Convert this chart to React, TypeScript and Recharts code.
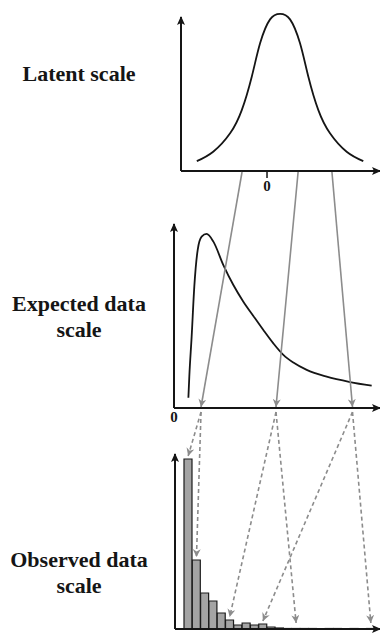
import React from "react";
import { LineChart, Line, BarChart, Bar, XAxis, YAxis } from "recharts";

// --- data ---
const LATENT_X = [-2.53, -1.94, -1.33, -0.91, -0.55, -0.25, 0.11, 0.47, 0.83, 1.19, 1.49, 1.85, 2.27, 2.87, 3.47];
const LATENT_DENSITY = [0.025, 0.049, 0.096, 0.155, 0.24, 0.325, 0.386, 0.4, 0.386, 0.325, 0.24, 0.155, 0.096, 0.049, 0.025];

const EXPECTED_X = [1.41, 1.5, 1.73, 1.99, 2.32, 2.71, 3.2, 3.86, 4.84, 5.82, 6.8, 7.78, 8.76, 9.74, 10.72, 11.7, 13.01, 14.97, 17.26, 19.38];
const EXPECTED_DENSITY = [0.056, 0.171, 0.39, 0.663, 0.863, 0.936, 0.951, 0.909, 0.781, 0.672, 0.581, 0.503, 0.426, 0.353, 0.29, 0.248, 0.208, 0.171, 0.142, 0.122];

const COUNT_LABELS = ["0", "1", "2", "3", "4", "5", "6", "7", "8", "9", "10", "11", "12", "13", "14", "15", "16", "17", "18", "19", "20", "21", "22"];
const COUNT_FREQ = [340, 138, 72, 56, 32, 18, 8, 12, 8, 10, 4, 2, 1, 1, 1, 1, 0, 1, 1, 0, 1, 0, 1];

// latent values -> expected values -> observed counts (the arrows)
const LATENT_POINTS = [-0.9, 1.12, 2.34];
const EXPECTED_POINTS = [2.65, 10.0, 17.5];
const COUNT_RANGES = [[0, 1], [5, 13], [9, 22]];

const W = 380;
const H = 635;
const INK = "#151515";
const ARROW_GRAY = "#8c8c8c";
const LABEL_FONT = "'Liberation Serif', 'Times New Roman', serif";

// plot areas (pixels) + domains, shared by charts and the overlay
const TOP = { left: 181, right: 378, top: 6, bottom: 171, xMin: -3.1, xMax: 4, yMax: 0.42 };
const MID = { left: 174, right: 378, top: 225, bottom: 408, xMin: 0, xMax: 20, yMax: 1 };
const BOT = { left: 175, right: 378, top: 455, bottom: 629, padL: 9, padR: 3, yMax: 348 };

const latentPx = (x: number) => TOP.left + ((x - TOP.xMin) / (TOP.xMax - TOP.xMin)) * (TOP.right - TOP.left);
const expectedPx = (x: number) => MID.left + ((x - MID.xMin) / (MID.xMax - MID.xMin)) * (MID.right - MID.left);
const band = (BOT.right - BOT.padR - BOT.left - BOT.padL) / COUNT_LABELS.length;
const countPx = (i: number) => BOT.left + BOT.padL + (i + 0.5) * band;
const countTopPx = (v: number) => BOT.bottom - (v / BOT.yMax) * (BOT.bottom - BOT.top);

const latentData = LATENT_X.map((x, i) => ({ x, y: LATENT_DENSITY[i] }));
const expectedData = EXPECTED_X.map((x, i) => ({ x, y: EXPECTED_DENSITY[i] }));
const countData = COUNT_LABELS.map((k, i) => ({ k, n: COUNT_FREQ[i] }));

const tickFont = { fill: INK, fontSize: 15, fontWeight: "bold", fontFamily: LABEL_FONT };

const layer: React.CSSProperties = { position: "absolute", left: 0, top: 0 };

// axis with arrow head: vertical + horizontal line from the origin
const AxisArrows = ({ x0, y0, yTop, xEnd }: { x0: number; y0: number; yTop: number; xEnd: number }) => (
  <g stroke={INK} strokeWidth={2}>
    <line x1={x0} y1={y0} x2={x0} y2={yTop} markerEnd="url(#axisHead)" />
    <line x1={x0} y1={y0} x2={xEnd} y2={y0} markerEnd="url(#axisHead)" />
  </g>
);

const SideLabel = ({ lines, y }: { lines: string[]; y: number }) => (
  <text x={79} y={y} textAnchor="middle" fontFamily={LABEL_FONT} fontWeight="bold" fontSize={22} fill={INK}>
    {lines.map((t, i) => (
      <tspan key={t} x={79} dy={i === 0 ? 0 : 26}>
        {t}
      </tspan>
    ))}
  </text>
);

export default function App() {
  return (
    <div style={{ position: "absolute", left: 0, top: 0, width: W, height: H, background: "#fff" }}>
      {/* latent scale */}
      <div style={layer}>
        <LineChart width={W} height={H} data={latentData} margin={{ top: TOP.top, right: W - TOP.right, left: TOP.left, bottom: H - TOP.bottom - 29 }}>
          <XAxis
            type="number"
            dataKey="x"
            domain={[TOP.xMin, TOP.xMax]}
            ticks={[0]}
            height={29}
            axisLine={false}
            tickLine={{ stroke: INK, strokeWidth: 1.5 }}
            tickSize={7}
            tickMargin={2}
            tick={tickFont}
          />
          <YAxis hide domain={[0, TOP.yMax]} />
          <Line dataKey="y" type="natural" stroke={INK} strokeWidth={1.8} dot={false} isAnimationActive={false} />
        </LineChart>
      </div>

      {/* expected data scale */}
      <div style={layer}>
        <LineChart width={W} height={H} data={expectedData} margin={{ top: MID.top, right: W - MID.right, left: MID.left, bottom: H - MID.bottom - 20 }}>
          <XAxis
            type="number"
            dataKey="x"
            domain={[MID.xMin, MID.xMax]}
            ticks={[0]}
            height={20}
            axisLine={false}
            tickLine={false}
            tickSize={2}
            tickMargin={1}
            tick={tickFont}
          />
          <YAxis hide domain={[0, MID.yMax]} />
          <Line dataKey="y" type="monotone" stroke={INK} strokeWidth={1.8} dot={false} isAnimationActive={false} />
        </LineChart>
      </div>

      {/* observed data scale */}
      <div style={layer}>
        <BarChart width={W} height={H} data={countData} margin={{ top: BOT.top, right: W - BOT.right, left: BOT.left, bottom: H - BOT.bottom }} barCategoryGap={0}>
          <XAxis dataKey="k" hide padding={{ left: BOT.padL, right: BOT.padR }} />
          <YAxis hide domain={[0, BOT.yMax]} />
          <Bar dataKey="n" fill="#a4a4a4" stroke="#1c1c1c" strokeWidth={1.2} isAnimationActive={false} />
        </BarChart>
      </div>

      {/* axes, connecting arrows and side labels */}
      <svg width={W} height={H} style={layer}>
        <defs>
          <marker id="axisHead" markerWidth={9} markerHeight={8} refX={8} refY={4} orient="auto" markerUnits="userSpaceOnUse">
            <path d="M0,0 L9,4 L0,8 L2,4 Z" fill={INK} />
          </marker>
          <marker id="grayHead" markerWidth={8} markerHeight={8} refX={8} refY={4} orient="auto" markerUnits="userSpaceOnUse">
            <path d="M0,0 L8,4 L0,8 L2.5,4 Z" fill={ARROW_GRAY} />
          </marker>
        </defs>

        <AxisArrows x0={TOP.left} y0={TOP.bottom} yTop={17} xEnd={380} />
        <AxisArrows x0={MID.left} y0={MID.bottom} yTop={224} xEnd={380} />
        <AxisArrows x0={BOT.left} y0={BOT.bottom} yTop={454} xEnd={380} />

        {LATENT_POINTS.map((lp, i) => (
          <line
            key={`solid-${i}`}
            x1={latentPx(lp)}
            y1={TOP.bottom + 1}
            x2={expectedPx(EXPECTED_POINTS[i])}
            y2={MID.bottom - 1}
            stroke={ARROW_GRAY}
            strokeWidth={1.6}
            markerEnd="url(#grayHead)"
          />
        ))}

        {EXPECTED_POINTS.map((ep, i) =>
          COUNT_RANGES[i].map((c) => (
            <line
              key={`dash-${i}-${c}`}
              x1={expectedPx(ep)}
              y1={MID.bottom + 4}
              x2={countPx(c)}
              y2={Math.min(countTopPx(COUNT_FREQ[c]), BOT.bottom - 3) - 3}
              stroke={ARROW_GRAY}
              strokeWidth={1.6}
              strokeDasharray="4 3"
              markerEnd="url(#grayHead)"
            />
          ))
        )}

        <SideLabel lines={["Latent scale"]} y={81} />
        <SideLabel lines={["Expected data", "scale"]} y={311} />
        <SideLabel lines={["Observed data", "scale"]} y={567} />
      </svg>
    </div>
  );
}
